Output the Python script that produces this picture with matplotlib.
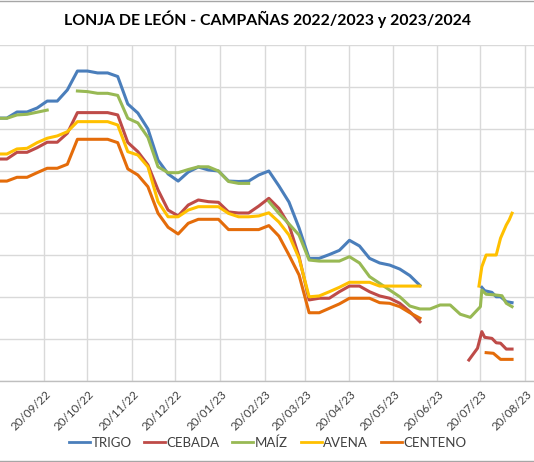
import matplotlib
matplotlib.use("Agg")
import matplotlib.pyplot as plt
import matplotlib.dates as mdates
import matplotlib.transforms as mtransforms
from matplotlib.lines import Line2D
import numpy as np
import pandas as pd
import datetime as dt

plt.rcParams['font.family'] = ['Lato', 'DejaVu Sans']

# ---------------- data (€/t) ----------------
# Campaign 2022/2023 weekly sessions
weeks_2223 = pd.date_range('2022-08-18', periods=49, freq='7D')

trigo_2223 = [325.2, 325.2, 328.1, 328.1, 330.0, 333.3, 333.3, 338.6, 347.6, 347.6,
              346.7, 346.7, 345.0, 331.9, 327.6, 320.0, 305.2, 298.6, 295.2, 299.5,
              301.9, 300.5, 300.0, 295.2, 295.0, 295.2, 298.1, 300.0, 292.9, 285.2,
              272.9, 258.4, 258.4, 260.2, 262.2, 267.0, 264.3, 258.4, 256.2, 255.2,
              253.3, 250.2, 245.5] + [None] * 6
cebada_2223 = [305.7, 305.7, 308.9, 308.9, 311.1, 313.7, 313.7, 318.0, 327.8, 327.8,
               327.8, 327.8, 326.7, 313.6, 309.2, 302.9, 291.0, 281.4, 278.6, 283.8,
               286.2, 285.4, 285.1, 280.5, 280.0, 280.0, 283.3, 287.0, 282.2, 274.3,
               259.2, 238.6, 239.4, 239.4, 242.5, 245.2, 245.2, 242.5, 240.5, 239.4,
               237.0, 233.0, 228.2] + [None] * 6
maiz_2223 = [325.1, 325.1, 326.7, 327.0, 328.0, 329.0, None, None, 338.1, 337.8,
             337.0, 337.0, 336.0, 325.1, 322.9, 316.0, 302.0, 299.2, 299.2, 300.7,
             302.0, 302.0, 300.0, 295.0, 294.1, 294.1, None, 285.5, 279.8, 274.8,
             269.5, 257.6, 257.1, 257.1, 257.1, 259.2, 256.2, 249.7, 246.5, 243.3,
             240.1, 235.7, 234.3, 234.3, 236.2, 236.2, 231.8, 230.3, 235.4]
avena_2223 = [308.1, 308.1, 310.5, 310.8, 313.5, 315.6, 316.7, 318.7, 323.5, 323.5,
              323.5, 323.5, 321.9, 309.2, 307.6, 302.0, 285.4, 278.2, 278.2, 281.4,
              283.0, 283.0, 283.0, 279.8, 278.2, 278.2, 278.6, 280.1, 275.7, 269.5,
              258.4, 240.1, 240.5, 242.5, 244.6, 247.0, 247.0, 247.0, 245.2, 245.2,
              245.2, 245.2, 245.2] + [None] * 6
centeno_2223 = [295.2, 295.2, 297.0, 297.0, 299.2, 301.3, 301.3, 303.2, 315.1, 315.1,
                315.1, 315.1, 313.5, 301.0, 298.1, 292.5, 279.9, 273.2, 270.0, 275.1,
                277.0, 277.0, 277.0, 272.1, 272.1, 272.1, 272.1, 274.0, 269.0, 260.0,
                250.5, 232.5, 232.5, 234.6, 236.7, 239.4, 239.4, 239.4, 237.3, 237.0,
                235.4, 232.5, 229.9] + [None] * 6

# Campaign 2023/2024 sessions
trigo_2324_dates = ['2023-07-21', '2023-07-23', '2023-07-28', '2023-07-31', '2023-08-03',
                    '2023-08-07', '2023-08-11']
trigo_2324 = [244.6, 243.0, 242.2, 240.1, 240.1, 237.8, 237.3]
cebada_2324_dates = ['2023-07-12', '2023-07-18', '2023-07-21', '2023-07-23', '2023-07-28',
                     '2023-07-31', '2023-08-03', '2023-08-07', '2023-08-11']
cebada_2324 = [210.0, 215.6, 223.5, 220.8, 220.3, 218.2, 218.0, 215.2, 215.2]
maiz_2324_dates = ['2023-07-21', '2023-07-24', '2023-07-30', '2023-08-04', '2023-08-07',
                   '2023-08-11']
maiz_2324 = [243.3, 241.3, 241.0, 240.6, 237.0, 235.4]
avena_2324_dates = ['2023-07-19', '2023-07-21', '2023-07-24', '2023-07-31', '2023-08-03',
                    '2023-08-07', '2023-08-09', '2023-08-11']
avena_2324 = [245.2, 254.4, 260.0, 260.0, 268.0, 274.3, 276.7, 279.9]
centeno_2324_dates = ['2023-07-24', '2023-07-29', '2023-08-03', '2023-08-11']
centeno_2324 = [213.5, 213.2, 210.3, 210.3]

labels = ['TRIGO', 'CEBADA', 'MAÍZ', 'AVENA', 'CENTENO']
colors = ['#4A7EBB', '#BE4B48', '#98B954', '#FFC000', '#E46C0A']
title = 'LONJA DE LEÓN - CAMPAÑAS 2022/2023 y 2023/2024'

# ---------------- figure ----------------
W, H = 534, 462
fig = plt.figure(figsize=(W / 100, H / 100), dpi=100)
ax_bottom = (H - 381) / H
ax_top = (H - 45) / H
ax = fig.add_axes([0, ax_bottom, 1, ax_top - ax_bottom])

def to_arr(v):
    return np.array([np.nan if x is None else x for x in v], dtype=float)

old = [trigo_2223, cebada_2223, maiz_2223, avena_2223, centeno_2223]
new = [(trigo_2324_dates, trigo_2324), (cebada_2324_dates, cebada_2324),
       (maiz_2324_dates, maiz_2324), (avena_2324_dates, avena_2324),
       (centeno_2324_dates, centeno_2324)]

lw = 2.2
for i, (lab, col) in enumerate(zip(labels, colors)):
    y_old = to_arr(old[i])
    nd, nv = new[i]
    if lab == 'MAÍZ':
        xs = list(weeks_2223) + list(pd.to_datetime(nd))
        ys = np.concatenate([y_old, np.array(nv, dtype=float)])
        ax.plot(xs, ys, color=col, lw=lw, solid_joinstyle='round', zorder=3 + i)
    else:
        ax.plot(weeks_2223, y_old, color=col, lw=lw, solid_joinstyle='round', zorder=3 + i)
        ax.plot(pd.to_datetime(nd), nv, color=col, lw=lw, solid_joinstyle='round', zorder=3 + i)

ax.set_ylim(200, 360)
ax.set_yticks(np.arange(200, 361, 20))
ax.set_xlim(dt.datetime(2022, 8, 20, 5), dt.datetime(2023, 8, 26, 6))
ax.xaxis.set_major_locator(mdates.MonthLocator(bymonthday=20))
ax.xaxis.set_major_formatter(mdates.DateFormatter('%d/%m/%y'))
ax.grid(True, color='#D9D9D9', lw=1.0, zorder=0)
ax.set_axisbelow(True)
for s in ['left', 'right', 'top']:
    ax.spines[s].set_visible(False)
ax.spines['bottom'].set_color('#BFBFBF')
ax.spines['bottom'].set_linewidth(1.0)
ax.tick_params(axis='y', left=False, labelleft=False)
ax.tick_params(axis='x', length=0, pad=8, labelsize=8.4, labelcolor='#404040')
offset = mtransforms.ScaledTranslation(5 / 100, 0, fig.dpi_scale_trans)
for lbl in ax.get_xticklabels():
    lbl.set_rotation(45)
    lbl.set_ha('right')
    lbl.set_va('center')
    lbl.set_rotation_mode('anchor')
    lbl.set_transform(lbl.get_transform() + offset)

fig.text(267.5 / W, 1 - 24.8 / H, title, ha='center', va='baseline',
         fontsize=11.4, fontweight='bold', color='#000000')

handles = [Line2D([], [], color=c, lw=2.0) for c in colors]
fig.legend(handles, labels, loc='center', bbox_to_anchor=(267.5 / W, 1 - 442.5 / H),
           ncol=5, frameon=False, fontsize=9.5, handlelength=1.6, handletextpad=0.12,
           columnspacing=0.95, labelcolor='#404040')

# chart border (top and bottom visible)
fig.add_artist(Line2D([0, 1], [1 - 0.8 / H, 1 - 0.8 / H], transform=fig.transFigure,
                      color='#A6A6A6', lw=1.0))
fig.add_artist(Line2D([0, 1], [1.5 / H, 1.5 / H], transform=fig.transFigure,
                      color='#A6A6A6', lw=1.0))

fig.savefig('out.png', dpi=100)
